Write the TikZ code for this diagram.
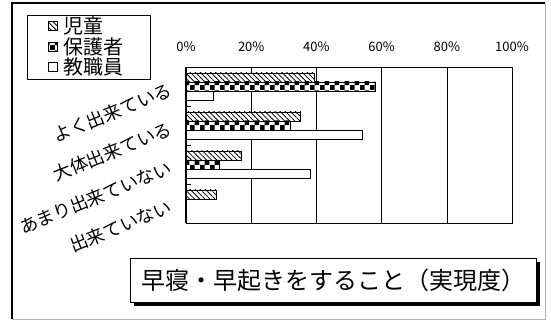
\documentclass[tikz,border=0pt]{standalone}
\usepackage{fontspec}
\setmainfont{Noto Sans CJK JP}
\usepackage{tikz}
\usepackage{xcolor}
\usetikzlibrary{patterns.meta,shadows}

\tikzdeclarepattern{
  name=bigchecker,
  type=uncolored,
  bottom left={(0pt,0pt)},
  top right={(10pt,10pt)},
  tile size={(10pt,10pt)},
  code={
    \fill (0pt,0pt) rectangle (5pt,5pt);
    \fill (5pt,5pt) rectangle (10pt,10pt);
  }
}

\tikzset{
  hatchbar/.style={draw=black,line width=0.9pt,fill=white,
    postaction={pattern={Lines[angle=-45,distance=3.6pt,line width=0.8pt]}}},
  checkbar/.style={draw=black,line width=0.9pt,fill=white,postaction={pattern=bigchecker}},
  plainbar/.style={draw=black,line width=0.9pt,fill=white},
  ticklab/.style={font=\fontsize{13}{13}\selectfont},
  catlab/.style={font=\fontsize{18}{18}\selectfont,rotate=22,anchor=east,inner sep=0pt},
  leglab/.style={font=\fontsize{20}{20}\selectfont,anchor=west,inner sep=0pt},
  legmark/.style={minimum size=9pt,inner sep=0pt}
}

\begin{document}
\begin{tikzpicture}[x=1pt,y=1pt]
        \useasboundingbox(0,0)rectangle(551,320);
        % outer frame
        \draw[line width=1.5pt](12,1)--(12,317)--(545,317);
        \draw[gray!60](545,317)--(545,1)--(12,1);
        % plot area and grid
        \foreach \p in{20,40,60,80}{
        \draw({186+3.26*\p},97)--++(0,156);
        }
        \draw(186,97)rectangle(512,253);
        \draw[line width=1.2pt](186,97)--(186,253);
        \foreach \j in{1,2,3}{
        \draw(186,{253-39*\j})--++(5,0);
        }
        \foreach \p in{0,20,...,100}{
        \node[ticklab](tick\p)at({186+3.26*\p},273){\p\%};
        }
        % bars: category/series/value/style
        \foreach \c/\k/\v/\s in{0/0/39.3/hatchbar,0/1/58/checkbar,0/2/8.3/plainbar,
                                1/0/35.2/hatchbar,1/1/32.1/checkbar,1/2/54.2/plainbar,
                                2/0/16.9/hatchbar,2/1/10.2/checkbar,2/2/38.3/plainbar,
                                3/0/9.2/hatchbar}{
        \draw[\s](186,{253-39*\c-6-9*\k})rectangle++({3.26*\v},-9);
        }
        % category labels
        \foreach \t [count=\i] in{よく出来ている,大体出来ている,あまり出来ていない,出来ていない}{
        \node[catlab](cat\i)at(171,{253-39*(\i-1)-22}){\t};
        }
        % legend
        \draw(27,241)rectangle(150,305);
        \node[legmark,hatchbar](mk1)at(53,294){};
        \node[legmark,checkbar](mk2)at(53,273){};
        \node[legmark,plainbar](mk3)at(53,253){};
        \node[leglab](lg1)at([xshift=5pt]mk1.east){児童};
        \node[leglab](lg2)at([xshift=5pt]mk2.east){保護者};
        \node[leglab](lg3)at([xshift=5pt]mk3.east){教職員};
        % title
        \node[draw,line width=0.8pt,fill=white,minimum width=406pt,minimum height=44pt,
              drop shadow={shadow xshift=4pt,shadow yshift=-4pt,fill=black,opacity=1},
              font=\fontsize{24}{24}\selectfont](title)at(333,40){早寝・早起きをすること（実現度）};
    \end{tikzpicture}
\end{document}
